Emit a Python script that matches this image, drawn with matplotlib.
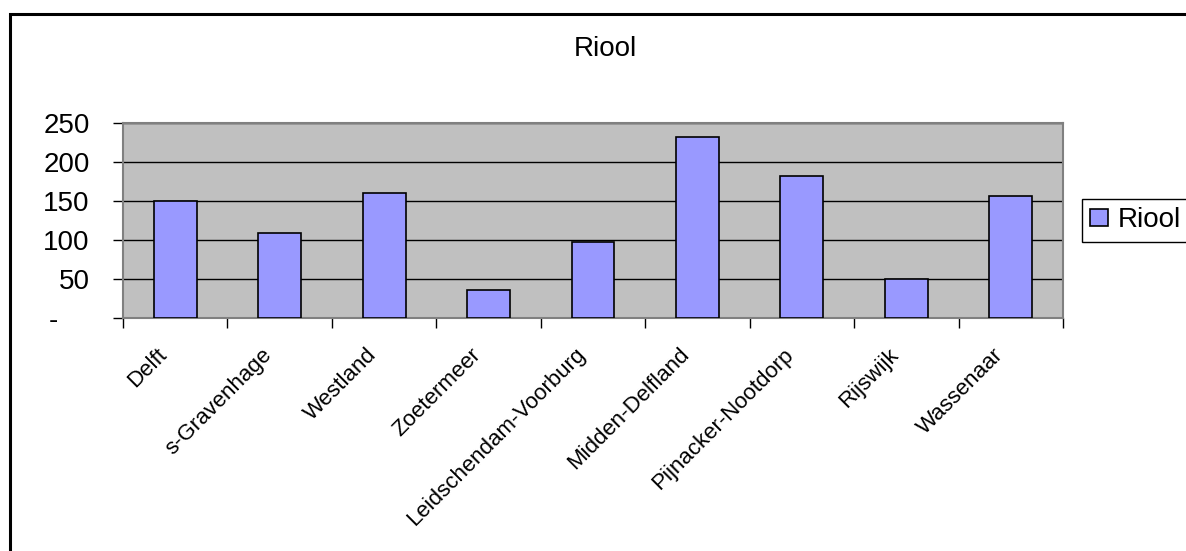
import matplotlib
matplotlib.use("Agg")
import matplotlib.pyplot as plt
from matplotlib.patches import Rectangle
from matplotlib.transforms import ScaledTranslation
import numpy as np

plt.rcParams['font.family'] = ['Liberation Sans', 'DejaVu Sans']

categories = ["Delft", "s-Gravenhage", "Westland", "Zoetermeer",
              "Leidschendam-Voorburg", "Midden-Delfland", "Pijnacker-Nootdorp",
              "Rijswijk", "Wassenaar"]
values = [150, 109, 161, 36, 98, 232, 182, 50, 157]
yticks = [0, 50, 100, 150, 200, 250]
ytick_labels = ["-    ", "50", "100", "150", "200", "250"]
series_name = "Riool"

W, H = 1186, 551
fig = plt.figure(figsize=(W / 100, H / 100), dpi=100)
fig.patch.set_facecolor("white")

# outer chart border (top and left visible)
fig.patches.append(Rectangle((10 / W, -0.1), 1.2, 1 - 14 / H + 0.1,
                             transform=fig.transFigure, fill=False,
                             edgecolor="black", linewidth=2.2, zorder=0))

left, right = 123 / W, 1063 / W
bottom, top = 1 - 318.3 / H, 1 - 123 / H
ax = fig.add_axes([left, bottom, right - left, top - bottom])
ax.set_facecolor("#C0C0C0")

x = np.arange(len(categories))
ax.bar(x, values, width=0.41, color="#9999FF", edgecolor="black",
       linewidth=1.2, zorder=3, label=series_name)

ax.set_xlim(-0.5, len(categories) - 0.5)
ax.set_ylim(0, 250)

# y axis
ax.set_yticks(yticks)
ax.set_yticklabels(ytick_labels, fontsize=20)
ax.tick_params(axis="y", length=7, width=1, color="black", pad=17, direction="out")
ax.yaxis.grid(True, color="black", linewidth=1, zorder=1)
ax.set_axisbelow(True)

# x axis: ticks at boundaries, labels at centers
ax.set_xticks(np.arange(len(categories) + 1) - 0.5)
ax.set_xticklabels([])
ax.tick_params(axis="x", which="major", length=7, width=1, color="black", direction="out")
ax.set_xticks(x, minor=True)
ax.set_xticklabels(categories, minor=True, fontsize=16, rotation=45,
                   ha="right", va="center", rotation_mode="anchor")
ax.tick_params(axis="x", which="minor", length=0, pad=24)
shift = ScaledTranslation(-11 / 100, 0, fig.dpi_scale_trans)
for lbl in ax.get_xticklabels(minor=True):
    lbl.set_transform(lbl.get_transform() + shift)

for side in ["top", "right", "left", "bottom"]:
    ax.spines[side].set_color("#808080")
    ax.spines[side].set_linewidth(1.5)

fig.text(605 / W, 1 - 49 / H, "Riool", fontsize=20, ha="center", va="center")

leg = ax.legend(loc="upper left", bbox_to_anchor=(1082 / W, 1 - 199 / H),
                bbox_transform=fig.transFigure, borderaxespad=0,
                fancybox=False, framealpha=1, edgecolor="black",
                fontsize=20, handlelength=0.65, handleheight=0.6,
                handletextpad=0.32, borderpad=0.3)
leg.get_frame().set_linewidth(1.0)

fig.savefig("out.png", dpi=100)
